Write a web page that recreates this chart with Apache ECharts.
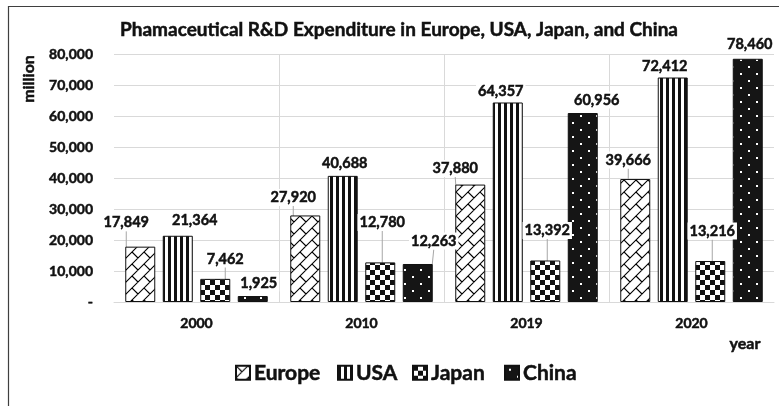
<!DOCTYPE html>
<html>
<head>
<meta charset="utf-8">
<script src="https://cdn.jsdelivr.net/npm/echarts@6/dist/echarts.min.js"></script>
<style>
html,body{margin:0;padding:0;background:#fff;}
#chart{width:779px;height:406px;}
</style>
</head>
<body>
<div id="chart"></div>
<script>
// ---- data ----
const categories = ['2000', '2010', '2019', '2020'];
const seriesNames = ['Europe', 'USA', 'Japan', 'China'];
const europe = [17849, 27920, 37880, 39666];
const usa = [21364, 40688, 64357, 72412];
const japan = [7462, 12780, 13392, 13216];
const china = [1925, 12263, 60956, 78460];
const yTicks = [0, 10000, 20000, 30000, 40000, 50000, 60000, 70000, 80000];

// ---- label placement: offset of label centre from the bar's top-centre (px) ----
const labelNudge = {
  Europe: [[-14, -24], [-12, -18], [-15, -16], [-7, -19]],
  USA:    [[17, -15], [2, -13], [-7, -11], [-8, -11]],
  Japan:  [[10, -20], [2, -40], [2, -30], [2, -30]],
  China:  [[6, -13], [16, -23], [14, -13], [2, -14]]
};
const leader = {
  Europe: [true, true, true, true],
  USA:    [false, false, false, false],
  Japan:  [true, true, true, true],
  China:  [false, true, false, false]
};
// legend item positions (left edge of each icon, px)
const legendLeft = [230, 332, 407, 499];

// ---- fill patterns ----
function makeCanvas(w, h, draw) {
  const c = document.createElement('canvas');
  c.width = w; c.height = h;
  draw(c.getContext('2d'), w, h);
  return c;
}
const brick = makeCanvas(24, 24, (g, w, h) => {
  g.fillStyle = '#fff'; g.fillRect(0, 0, w, h);
  g.strokeStyle = '#000'; g.lineWidth = 1.1;
  g.beginPath();
  for (let k = -6; k <= 10; k++) {
    const c = 12 * k;
    g.moveTo(c + 36, -36); g.lineTo(c - 36, 36);
  }
  for (let k = -6; k <= 8; k++) {
    const par = ((k % 2) + 2) % 2;
    for (let j = -4; j <= 4; j++) {
      const t = 24 * j + (par ? 12 : 0);
      g.moveTo((12 * k + t) / 2, (12 * k - t) / 2);
      g.lineTo((12 * k + 12 + t) / 2, (12 * k + 12 - t) / 2);
    }
  }
  g.stroke();
});
const stripes = makeCanvas(6, 6, (g, w, h) => {
  g.fillStyle = '#fff'; g.fillRect(0, 0, w, h);
  g.fillStyle = '#111'; g.fillRect(0, 0, 3, h);
});
const checker = makeCanvas(10, 10, (g, w, h) => {
  g.fillStyle = '#fff'; g.fillRect(0, 0, w, h);
  g.fillStyle = '#111'; g.fillRect(0, 0, 5, 5); g.fillRect(5, 5, 5, 5);
});
const dots = makeCanvas(16, 14, (g, w, h) => {
  g.fillStyle = '#151515'; g.fillRect(0, 0, w, h);
  g.fillStyle = '#fff'; g.fillRect(4, 3, 2, 2); g.fillRect(12, 10, 2, 2);
});
const patterns = {
  Europe: { image: brick, repeat: 'repeat' },
  USA: { image: stripes, repeat: 'repeat' },
  Japan: { image: checker, repeat: 'repeat' },
  China: { image: dots, repeat: 'repeat' }
};
const values = { Europe: europe, USA: usa, Japan: japan, China: china };

const FONT = 'Lato';
const INK = '#111';
const bold = { fontFamily: FONT, fontWeight: 'bold', color: INK, textBorderColor: INK, textBorderWidth: 0.5 };
const fmt = v => v === 0 ? '-' : v.toLocaleString('en-US');

const series = seriesNames.map((name) => ({
  name: name,
  type: 'bar',
  barWidth: 30,
  barGap: '25%',
  data: values[name].map((v, i) => ({
    value: v,
    labelLine: { show: leader[name][i] }
  })),
  itemStyle: { color: patterns[name], borderColor: '#111', borderWidth: 1 },
  label: Object.assign({
    show: true,
    position: 'top',
    formatter: p => fmt(p.value),
    fontSize: 14.5,
    backgroundColor: '#fff', padding: [1, 2]
  }, bold),
  labelLine: { show: true, lineStyle: { color: '#a6a6a6', width: 1 } },
  labelLayout: function (params) {
    const n = labelNudge[name][params.dataIndex];
    const r = params.rect;
    return {
      x: r.x + r.width / 2 + n[0],
      y: r.y + n[1],
      align: 'center',
      verticalAlign: 'middle',
      hideOverlap: false
    };
  }
}));

const legends = seriesNames.map((name, i) => ({
  data: [name],
  left: legendLeft[i], top: 357,
  icon: 'rect', itemWidth: 14, itemHeight: 14,
  textStyle: Object.assign({ fontSize: 21, padding: [0, 0, 0, -1] }, bold)
}));

const chart = echarts.init(document.getElementById('chart'));
chart.setOption({
  animation: false,
  backgroundColor: '#fff',
  title: {
    text: 'Phamaceutical R&D Expenditure in Europe, USA, Japan, and China',
    left: 394, top: 15, textAlign: 'center',
    textStyle: Object.assign({ fontSize: 19 }, bold)
  },
  legend: legends,
  grid: { left: 114, right: 5, top: 54, bottom: 104, containLabel: false },
  xAxis: {
    type: 'category',
    data: categories,
    axisLine: { show: true, lineStyle: { color: '#d9d9d9', width: 1 } },
    axisTick: { show: false },
    axisLabel: Object.assign({ margin: 14, fontSize: 14 }, bold),
    splitLine: { show: true, showMinLine: false, showMaxLine: false, lineStyle: { color: '#d9d9d9', width: 1 } }
  },
  yAxis: {
    type: 'value',
    min: yTicks[0], max: yTicks[yTicks.length - 1], interval: yTicks[1] - yTicks[0],
    axisLine: { show: false },
    axisTick: { show: false },
    axisLabel: Object.assign({ margin: 21, formatter: fmt, fontSize: 14 }, bold),
    splitLine: { show: true, lineStyle: { color: '#d9d9d9', width: 1 } }
  },
  graphic: [
    { type: 'rect', shape: { x: 8.5, y: 6.5, width: 900, height: 600 }, style: { fill: null, stroke: '#3f3f3f', lineWidth: 1.2 }, silent: true },
    { type: 'text', x: 29, y: 79, rotation: Math.PI / 2, style: { text: 'million', font: 'bold 16px Lato', fill: INK, stroke: INK, lineWidth: 0.5, align: 'center', verticalAlign: 'middle' } },
    { type: 'text', x: 745, y: 344, style: { text: 'year', font: 'bold 16px Lato', fill: INK, stroke: INK, lineWidth: 0.5, align: 'center', verticalAlign: 'middle' } }
  ],
  series: series
});
</script>
</body>
</html>
